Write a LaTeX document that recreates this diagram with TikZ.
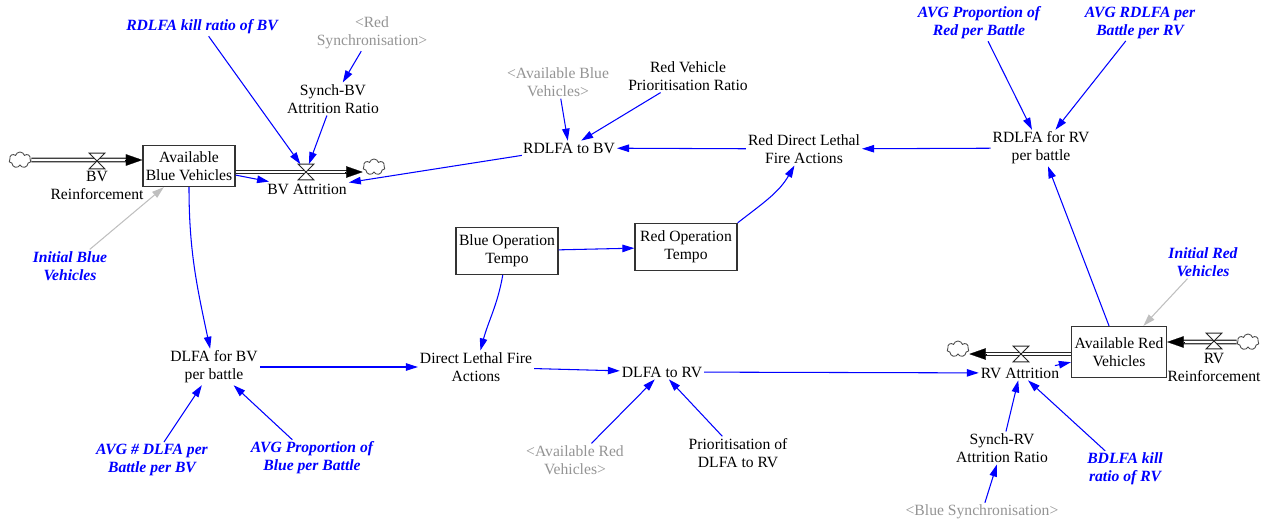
\documentclass[tikz,border=0pt]{standalone}
\usepackage{fontspec}
\setmainfont{Liberation Serif}
\usetikzlibrary{arrows.meta,shapes.symbols}
\tikzset{
  var/.style={align=center, inner sep=1pt, font=\fontsize{8.9}{10.2}\selectfont},
  cst/.style={var, text=blue, font=\fontsize{8.9}{10.2}\selectfont\bfseries\itshape},
  shd/.style={var, text=black!42},
  stock/.style={var, draw=black!80, line width=0.75pt, inner sep=0pt},
  valve/.style={inner sep=0pt, minimum width=0.3cm, minimum height=0.3cm},
  sink/.style={cloud, cloud puffs=7, aspect=1.4, draw=black!70, line width=0.5pt,
    minimum width=0.44cm, minimum height=0.32cm, inner sep=0pt},
  pipe/.style={draw=black!85, line width=0.6pt, double=white, double distance=1.4pt},
  pipetip/.style={line width=0.1pt, -{Triangle[length=3.3mm,width=2.3mm]}},
  link/.style={draw=blue, line width=0.6pt, -{Triangle[length=2.4mm,width=1.5mm]}},
  glink/.style={link, draw=black!25},
}
\begin{document}
\begin{tikzpicture}[x=0.02cm, y=0.02cm]
  \useasboundingbox (0,0) rectangle (1278,-521);
  % blue vehicle stock and flows
  \node[sink] (cbr) at (20,-160) {};
  \node[valve] (bvr) at (97,-161) {};
  \node[var] (bvrl) at (97,-185) {BV\\Reinforcement};
  \node[stock, minimum width=1.84cm, minimum height=0.82cm] (abv) at (189,-166)
    {Available\\Blue Vehicles};
  \node[valve] (bva) at (306,-172) {};
  \node[var] (bval) at (307,-189) {BV Attrition};
  \node[sink] (cba) at (374,-167) {};
  \node[cst] (ibv) at (70,-266) {Initial Blue\\Vehicles};
  \node[cst] (rdk) at (202,-27) {RDLFA kill ratio of BV};
  \node[shd] (rsy) at (372,-33) {\textless Red\\Synchronisation\textgreater};
  \node[var] (sbv) at (333,-99) {Synch-BV\\Attrition Ratio};
  % red fire on blue
  \node[var] (rtb) at (569,-148) {RDLFA to BV};
  \node[shd] (avb) at (558,-82) {\textless Available Blue\\Vehicles\textgreater};
  \node[var] (rvp) at (688,-76) {Red Vehicle\\Prioritisation Ratio};
  \node[var] (rdf) at (804,-149) {Red Direct Lethal\\Fire Actions};
  \node[var] (rfr) at (1041,-148) {RDLFA for RV\\per battle};
  \node[cst] (apr) at (979,-23) {AVG Proportion of\\Red per Battle};
  \node[cst] (arr) at (1140,-23) {AVG RDLFA per\\Battle per RV};
  % tempo
  \node[stock, minimum width=2.04cm, minimum height=0.94cm] (bot) at (507,-251)
    {Blue Operation\\Tempo};
  \node[stock, minimum width=2.04cm, minimum height=0.94cm] (rot) at (686,-247)
    {Red Operation\\Tempo};
  % blue fire on red
  \node[var] (dfb) at (214,-367) {DLFA for BV\\per battle};
  \node[var] (dlf) at (476,-367) {Direct Lethal Fire\\Actions};
  \node[var] (dtr) at (662,-372) {DLFA to RV};
  \node[cst] (adb) at (152,-460) {AVG \# DLFA per\\Battle per BV};
  \node[cst] (apb) at (312,-458) {AVG Proportion of\\Blue per Battle};
  \node[shd] (avr) at (575,-460) {\textless Available Red\\Vehicles\textgreater};
  \node[var] (pdr) at (738,-453) {Prioritisation of\\DLFA to RV};
  % red vehicle stock and flows
  \node[stock, minimum width=1.9cm, minimum height=1.02cm] (arv) at (1119,-352)
    {Available Red\\Vehicles};
  \node[sink] (cra) at (958,-349) {};
  \node[valve] (rva) at (1021,-354) {};
  \node[var] (rval) at (1020,-373) {RV Attrition};
  \node[valve] (rvr) at (1214,-341) {};
  \node[var] (rvrl) at (1214,-367) {RV\\Reinforcement};
  \node[sink] (crr) at (1248,-342) {};
  \node[cst] (ird) at (1203,-262) {Initial Red\\Vehicles};
  \node[var] (srv) at (1002,-448) {Synch-RV\\Attrition Ratio};
  \node[cst] (bdk) at (1125,-469) {BDLFA kill\\ratio of RV};
  \node[shd] (bsy) at (982,-512) {\textless Blue Synchronisation\textgreater};
  % pipes
  \draw[pipe, shorten >=2mm] (cbr.east) -- (cbr -| abv.west);
  \draw[pipetip] ([xshift=-3.5mm]cbr -| abv.west) -- (cbr -| abv.west);
  \draw[pipe, shorten >=2mm] (abv.east |- bva) -- (bva -| cba.west);
  \draw[pipetip] ([xshift=-3.5mm]bva -| cba.west) -- (bva -| cba.west);
  \draw[pipe, shorten >=2mm] (arv.west |- rva) -- (rva -| cra.east);
  \draw[pipetip] ([xshift=3.5mm]rva -| cra.east) -- (rva -| cra.east);
  \draw[pipe, shorten >=2mm] (crr.west) -- (crr -| arv.east);
  \draw[pipetip] ([xshift=3.5mm]crr -| arv.east) -- (crr -| arv.east);
  \foreach \v in {bvr,bva,rva,rvr}{
    \filldraw[fill=white, draw=black!85, line width=0.5pt]
      (\v.north west) -- (\v.north east) -- (\v.south west) -- (\v.south east) -- cycle;
  }
  % links
  \draw[glink] (ibv) -- (abv);
  \draw[link] (rdk) -- (bva);
  \draw[link] (rsy) -- (sbv);
  \draw[link] (sbv) -- (bva);
  \draw[link] (abv) -- (bval);
  \draw[link] (rtb) -- (bval);
  \draw[link] (avb) -- (rtb);
  \draw[link] (rvp) -- (rtb);
  \draw[link] (rdf) -- (rtb);
  \draw[link] (rfr) -- (rdf);
  \draw[link] (apr) -- (rfr);
  \draw[link] (arr) -- (rfr);
  \draw[link] (arv) -- (rfr);
  \draw[glink] (ird) -- (arv);
  \draw[link] (bot) -- (rot);
  \draw[link] (rot.north east) to[out=38, in=-120] (rdf);
  \draw[link] (bot) to[out=-100, in=75] (dlf);
  \draw[link] (abv) to[out=-90, in=102] (dfb);
  \draw[link] (dfb) -- (dlf);
  \draw[link] (dlf) -- (dtr);
  \draw[link] (dtr) -- (rval);
  \draw[link] (avr) -- (dtr);
  \draw[link] (pdr) -- (dtr);
  \draw[link] (adb) -- (dfb);
  \draw[link] (apb) -- (dfb);
  \draw[link] (srv) -- (rval);
  \draw[link] (bdk) -- (rval);
  \draw[link] (bsy) -- (srv);
  \draw[link] (rval) -- (arv);
\end{tikzpicture}
\end{document}
